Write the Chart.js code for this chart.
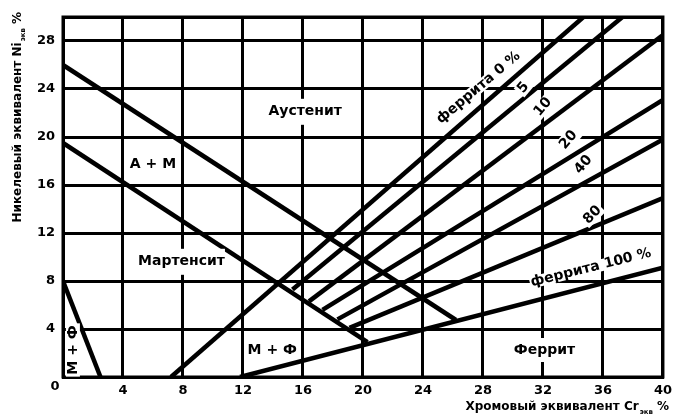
<!DOCTYPE html>
<html>
<head>
<meta charset="utf-8">
<script src="https://cdn.jsdelivr.net/npm/chart.js@4.4.0/dist/chart.umd.min.js"></script>
<style>
  html, body { margin: 0; padding: 0; background: #fff; }
  #wrap { width: 678px; height: 416px; position: relative; }
</style>
</head>
<body>
<div id="wrap"><canvas id="chart"></canvas></div>
<script>
// Шкалы (Cr экв по X, Ni экв по Y)
const xTicks = [0, 4, 8, 12, 16, 20, 24, 28, 32, 36, 40];
const yTicks = [0, 4, 8, 12, 16, 20, 24, 28, 30];

// Линии диаграммы: пары точек [Cr, Ni]
const lineA_AM = [[0, 26.0], [26.2, 4.75]];   // аустенит / А + М
const lineAM_M = [[0, 19.5], [20.3, 2.9]];    // А + М / мартенсит
const lineM_MF = [[0, 8.0], [2.5, 0]];        // М / М + Ф (слева)
const ferrite0 = [[7.2, 0], [34.7, 30]];
const ferrite5 = [[15.3, 7.3], [37.3, 30]];
const ferrite10 = [[16.4, 6.3], [40, 28.5]];
const ferrite20 = [[17.3, 5.6], [40, 23.1]];
const ferrite40 = [[18.3, 4.8], [40, 19.8]];
const ferrite80 = [[19.1, 4.1], [40, 14.9]];
const ferrite100 = [[11.8, 0], [40, 9.1]];

const allLines = [lineA_AM, lineAM_M, lineM_MF, ferrite0, ferrite5, ferrite10,
                  ferrite20, ferrite40, ferrite80, ferrite100];

const labelFont = 'bold 14px "DejaVu Sans"';

// Надписи на поле диаграммы
const annotations = [
    { text: 'Аустенит', cr: 16.15, ni: 22.1, angle: 0, bg: [3, 13] },
    { text: 'А + М', cr: 6.0, ni: 17.75, angle: 0 },
    { text: 'Мартенсит', cr: 7.9, ni: 9.6, angle: 0, bg: [0, 13] },
    { text: 'М + Ф', cr: 13.95, ni: 2.25, angle: 0 },
    { text: 'Феррит', cr: 32.1, ni: 2.25, angle: 0, bg: [3, 12] },
    { text: 'М + Ф', cr: 0.66, ni: 2.25, angle: -90, bg: [2, 7] },
    { text: 'феррита 0 %', cr: 27.7, ni: 24.1, angle: -40, bg: [1, 6] },
    { text: '5', cr: 30.7, ni: 24.1, angle: -50, bg: [2, 7] },
    { text: '10', cr: 32.0, ni: 22.5, angle: -50, bg: [2, 7] },
    { text: '20', cr: 33.7, ni: 19.75, angle: -50, bg: [3, 8] },
    { text: '40', cr: 34.7, ni: 17.7, angle: -50, bg: [2, 7] },
    { text: '80', cr: 35.3, ni: 13.5, angle: -45, bg: [2, 7] },
    { text: 'феррита 100 %', cr: 35.2, ni: 9.1, angle: -14, bg: [1, 6] }
];

const titleFont = 'bold 12px "DejaVu Sans"';
const subFont = 'bold 7px "DejaVu Sans"';

function titleWidth(ctx, main, sub, tail) {
    ctx.font = titleFont;
    let w = ctx.measureText(main).width + ctx.measureText(tail).width;
    ctx.font = subFont;
    return w + ctx.measureText(sub).width + 5;
}

// Подписи осей рисуем сами (нужен подстрочный индекс)
function drawTitle(ctx, main, sub, tail) {
    ctx.font = titleFont;
    ctx.textAlign = 'left';
    ctx.textBaseline = 'middle';
    ctx.fillText(main, 0, 0);
    let w = ctx.measureText(main).width;
    ctx.font = subFont;
    ctx.fillText(sub, w + 1, 5);
    w += ctx.measureText(sub).width + 5;
    ctx.font = titleFont;
    ctx.fillText(tail, w, 0);
}

const decor = {
    id: 'decor',
    afterDatasetsDraw(chart) {
        const { ctx, chartArea: a, scales: { x, y } } = chart;
        ctx.save();
        ctx.strokeStyle = '#000';
        ctx.lineWidth = 3;
        ctx.strokeRect(a.left, a.top, a.right - a.left, a.bottom - a.top);

        annotations.forEach(l => {
            ctx.save();
            ctx.translate(x.getPixelForValue(l.cr), y.getPixelForValue(l.ni));
            ctx.rotate(l.angle * Math.PI / 180);
            ctx.font = labelFont;
            const w = ctx.measureText(l.text).width;
            if (l.bg) {
                ctx.fillStyle = '#fff';
                ctx.fillRect(-w / 2 - l.bg[0], -l.bg[1], w + 2 * l.bg[0], 2 * l.bg[1]);
            }
            ctx.fillStyle = '#000';
            ctx.textAlign = 'center';
            ctx.textBaseline = 'middle';
            ctx.fillText(l.text, 0, 0);
            ctx.restore();
        });

        // общий ноль в углу
        ctx.fillStyle = '#000';
        ctx.font = 'bold 13px "DejaVu Sans"';
        ctx.textAlign = 'center';
        ctx.textBaseline = 'middle';
        ctx.fillText('0', a.left - 8, a.bottom + 10);

        // ось Y
        const yT = ['Никелевый эквивалент Ni', 'экв', '%'];
        ctx.save();
        ctx.translate(18, 12 + titleWidth(ctx, ...yT));
        ctx.rotate(-Math.PI / 2);
        drawTitle(ctx, ...yT);
        ctx.restore();

        // ось X
        const xT = ['Хромовый эквивалент Cr', 'экв', '%'];
        ctx.save();
        ctx.translate(669 - titleWidth(ctx, ...xT), 407);
        drawTitle(ctx, ...xT);
        ctx.restore();
        ctx.restore();
    }
};

new Chart(document.getElementById('chart'), {
    type: 'scatter',
    data: {
        datasets: allLines.map(pts => ({
            data: pts.map(p => ({ x: p[0], y: p[1] })),
            showLine: true,
            borderColor: '#000',
            borderWidth: 4.5,
            pointRadius: 0,
            fill: false
        }))
    },
    options: {
        responsive: true,
        maintainAspectRatio: false,
        animation: false,
        layout: { padding: { top: 17, right: 13, left: 0, bottom: 0 } },
        plugins: {
            legend: { display: false },
            tooltip: { enabled: false }
        },
        scales: {
            x: {
                type: 'linear',
                min: 0,
                max: 40,
                afterBuildTicks: s => { s.ticks = xTicks.map(v => ({ value: v })); },
                afterFit: s => { s.height = 39; },
                grid: { color: '#000', lineWidth: 3, drawTicks: false },
                border: { color: '#000', width: 3 },
                ticks: {
                    padding: 6,
                    color: '#000',
                    font: { family: 'DejaVu Sans', size: 13, weight: 'bold' },
                    callback: v => (v === 0 ? '' : v)
                }
            },
            y: {
                type: 'linear',
                min: 0,
                max: 30,
                afterBuildTicks: s => { s.ticks = yTicks.map(v => ({ value: v })); },
                afterFit: s => { s.width = 63; },
                grid: { color: '#000', lineWidth: 3, drawTicks: false },
                border: { color: '#000', width: 3 },
                ticks: {
                    padding: 8,
                    color: '#000',
                    font: { family: 'DejaVu Sans', size: 13, weight: 'bold' },
                    callback: v => (v === 0 || v === 30 ? '' : v)
                }
            }
        }
    },
    plugins: [decor]
});
</script>
</body>
</html>
